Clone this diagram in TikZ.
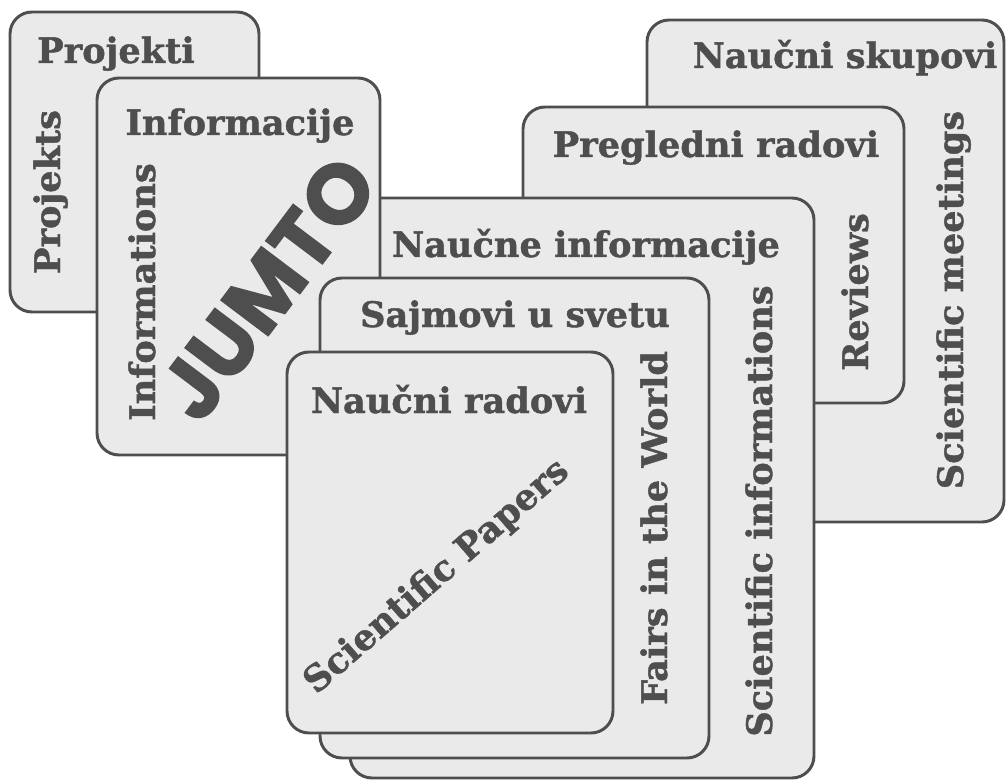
\documentclass[tikz,border=0pt]{standalone}
\usepackage{fontspec}
\setmainfont{DejaVu Serif}[BoldFeatures={FakeBold=1.2}]
\newfontfamily\jumtofont{Poppins}[BoldFeatures={FakeBold=1.5}]

\definecolor{inkgray}{HTML}{4E4E4E}
\definecolor{cardgray}{HTML}{EAEAEA}

\tikzset{
  card/.style={draw=inkgray, line width=2.1pt, fill=cardgray, rounded corners=0.55cm},
  title/.style={anchor=base, text=inkgray, inner sep=0pt, font=\bfseries\fontsize{25}{30}\selectfont},
  upright/.style={title, rotate=90},
  slanted/.style={anchor=center, text=inkgray, inner sep=0pt, font=\bfseries\fontsize{25.5}{30}\selectfont},
}

\begin{document}
\begin{tikzpicture}[x=0.025cm, y=-0.025cm]
\useasboundingbox (0,0) rectangle (1006,781);

%card Projekti
\draw[card] (10,12) rectangle (259,312);
\node[title] (projekti) at (116,63) {Projekti};
\node[upright] (projekts) at (60,192) {Projekts};

%card Naucni skupovi
\draw[card] (647,20) rectangle (1004,522);
\node[title] (skupovi) at (845,68) {Naučni skupovi};
\node[upright] (meetings) at (963,300) {Scientific meetings};

%card Pregledni radovi
\draw[card] (523,107) rectangle (904,403);
\node[title] (pregledni) at (716,157) {Pregledni radovi};
\node[upright] (reviews) at (868,292) {Reviews};

%card Naucne informacije
\draw[card] (350,198) rectangle (814,778);
\node[title] (nauinfo) at (586,257) {Naučne informacije};
\node[upright] (sciinfo) at (772,511) {Scientific informations};

%card Informacije
\draw[card] (97,78) rectangle (380,455);
\node[title] (informacije) at (240,135) {Informacije};
\node[upright] (informations) at (155,292) {Informations};
\node[anchor=center, text=inkgray, inner sep=0pt, rotate=53,
      font=\jumtofont\bfseries\fontsize{60}{60}\selectfont] (jumto) at (267,288) {JUMTO};

%card Sajmovi u svetu
\draw[card] (320,278) rectangle (709,758);
\node[title] (sajmovi) at (515,327) {Sajmovi u svetu};
\node[upright] (fairs) at (667,528) {Fairs in the World};

%card Naucni radovi
\draw[card] (287,352) rectangle (613,733);
\node[title] (radovi) at (449,413) {Naučni radovi};
\node[slanted, rotate=41] (papers) at (437,577) {Scientific Papers};

\end{tikzpicture}
\end{document}
